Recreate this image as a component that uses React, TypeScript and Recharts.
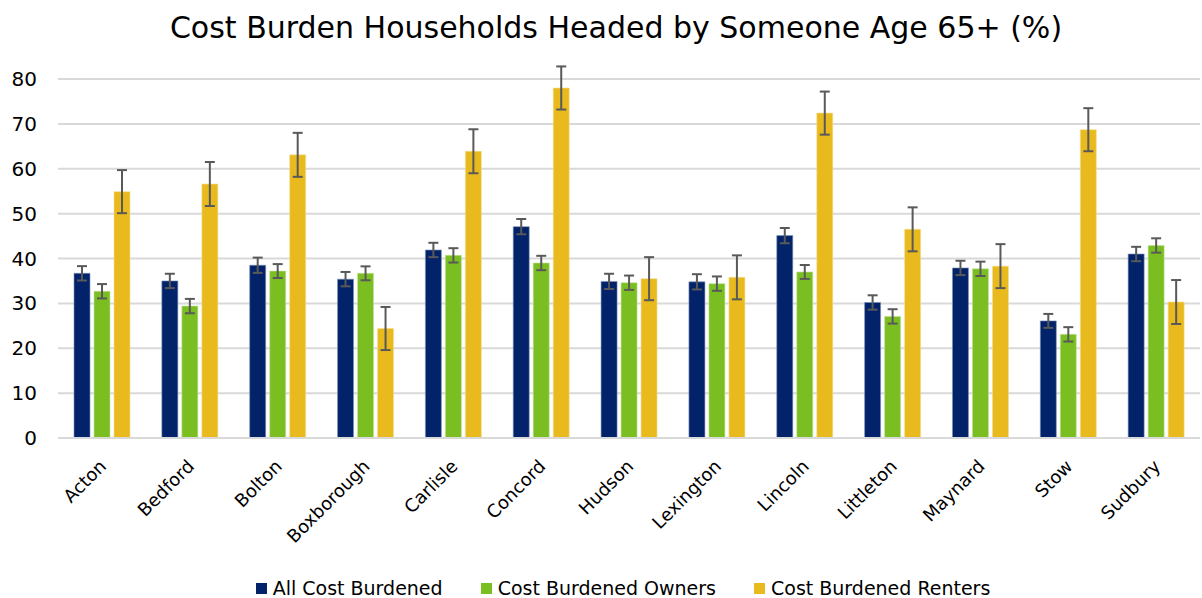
import React from 'react';
import { BarChart, Bar, XAxis, YAxis, CartesianGrid, Legend, ErrorBar } from 'recharts';

const towns = ['Acton', 'Bedford', 'Bolton', 'Boxborough', 'Carlisle', 'Concord', 'Hudson', 'Lexington', 'Lincoln', 'Littleton', 'Maynard', 'Stow', 'Sudbury'];
const allCostBurdened = [36.7, 35.0, 38.5, 35.4, 41.9, 47.1, 34.9, 34.8, 45.1, 30.2, 37.9, 26.1, 41.0];
const allErr = [1.6, 1.6, 1.7, 1.6, 1.6, 1.7, 1.7, 1.7, 1.7, 1.6, 1.6, 1.55, 1.6];
const owners = [32.7, 29.4, 37.2, 36.7, 40.7, 39.0, 34.6, 34.4, 37.0, 27.1, 37.7, 23.1, 42.9];
const ownersErr = [1.6, 1.6, 1.55, 1.55, 1.6, 1.6, 1.6, 1.6, 1.55, 1.6, 1.6, 1.6, 1.6];
const renters = [54.9, 56.6, 63.1, 24.4, 63.9, 78.0, 35.5, 35.8, 72.4, 46.5, 38.3, 68.7, 30.3];
const rentersErr = [4.8, 4.9, 4.9, 4.8, 4.9, 4.8, 4.8, 4.9, 4.8, 4.9, 4.9, 4.8, 4.9];
const yTicks = [0, 10, 20, 30, 40, 50, 60, 70, 80];
const seriesNames = ['All Cost Burdened', 'Cost Burdened Owners', 'Cost Burdened Renters'];
const colors = ['#022369', '#7BBE22', '#E8BA1E'];

const data = towns.map((t, i) => ({
  town: t,
  all: allCostBurdened[i],
  allErr: allErr[i],
  owners: owners[i],
  ownersErr: ownersErr[i],
  renters: renters[i],
  rentersErr: rentersErr[i],
}));

const FONT = 'DejaVu Sans, sans-serif';

const XTick = (props: any) => {
  const { x, y, payload } = props;
  return (
    <g transform={`translate(${x - 3},${y + 13})`}>
      <text x={0} y={0} dy={12} textAnchor="end" transform="rotate(-45)" fontSize={18} fill="#000" fontFamily={FONT}>
        {payload.value}
      </text>
    </g>
  );
};

const LegendContent = () => (
  <div style={{ height: 30, display: 'flex', justifyContent: 'center', alignItems: 'flex-end', fontFamily: FONT, fontSize: 19, color: '#000', paddingLeft: 46, boxSizing: 'border-box' }}>
    {seriesNames.map((n, i) => (
      <div key={n} style={{ display: 'flex', alignItems: 'center', marginLeft: i === 0 ? 0 : 38, lineHeight: '20px', whiteSpace: 'nowrap' }}>
        <span style={{ display: 'inline-block', width: 11, height: 11, background: colors[i], marginRight: 6 }} />
        <span>{n}</span>
      </div>
    ))}
  </div>
);

export default function App() {
  return (
    <div style={{ position: 'absolute', left: 0, top: 0, width: 1202, height: 598, background: '#fff' }}>
      <div style={{ position: 'absolute', left: 0, top: 8, width: 1232, textAlign: 'center', fontFamily: FONT, fontSize: 30, color: '#000', lineHeight: '40px' }}>
        Cost Burden Households Headed by Someone Age 65+ (%)
      </div>
      <BarChart
        width={1202}
        height={598}
        data={data}
        margin={{ top: 79, right: 2, left: 0, bottom: 0 }}
        barGap={4}
        barSize={16}
      >
        <CartesianGrid vertical={false} stroke="#D9D9D9" strokeWidth={2} />
        <XAxis dataKey="town" interval={0} tick={<XTick />} tickLine={false} axisLine={{ stroke: '#D9D9D9', strokeWidth: 2 }} height={130} />
        <YAxis domain={[0, 80]} allowDataOverflow ticks={yTicks} width={58} tickLine={false} axisLine={false} tickSize={0} tickMargin={21} tick={{ fontSize: 20, fill: '#000', fontFamily: FONT }} />
        <Legend verticalAlign="bottom" content={<LegendContent />} />
        <Bar dataKey="all" name={seriesNames[0]} fill={colors[0]} stroke="#8093B8" strokeWidth={0.6} isAnimationActive={false}>
          <ErrorBar dataKey="allErr" width={5} stroke="#595959" strokeWidth={2} />
        </Bar>
        <Bar dataKey="owners" name={seriesNames[1]} fill={colors[1]} stroke="#C4E29C" strokeWidth={0.6} isAnimationActive={false}>
          <ErrorBar dataKey="ownersErr" width={5} stroke="#595959" strokeWidth={2} />
        </Bar>
        <Bar dataKey="renters" name={seriesNames[2]} fill={colors[2]} stroke="#F5DD94" strokeWidth={0.6} isAnimationActive={false}>
          <ErrorBar dataKey="rentersErr" width={5} stroke="#595959" strokeWidth={2} />
        </Bar>
      </BarChart>
    </div>
  );
}
